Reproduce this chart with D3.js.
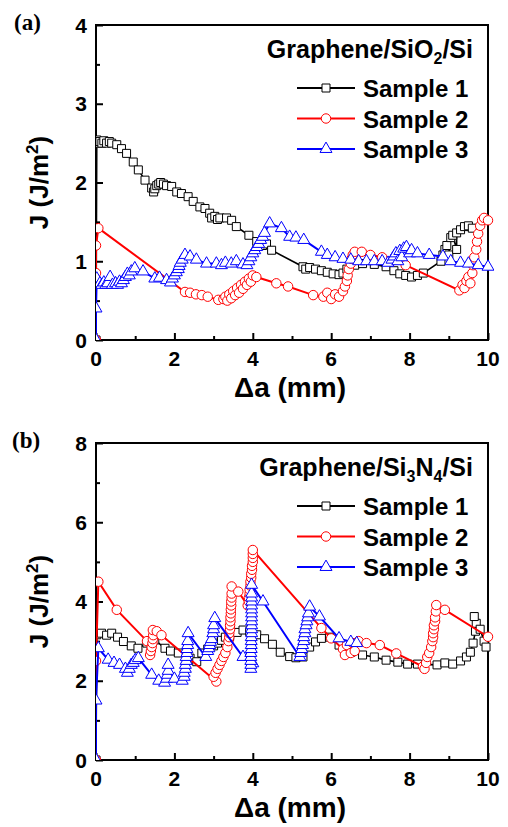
<!DOCTYPE html>
<html>
<head>
<meta charset="utf-8">
<script src="https://cdn.jsdelivr.net/npm/d3@7"></script>
<style>
  body { margin: 0; background: #fff; }
  text { font-weight: bold; }
</style>
</head>
<body>
<script>
// tick labels
var xTicks = [0, 2, 4, 6, 8, 10];
var yTicksA = [0, 1, 2, 3, 4];
var yTicksB = [0, 2, 4, 6, 8];
var sampleNames = ["Sample 1", "Sample 2", "Sample 3"];

// panel (a) Graphene/SiO2/Si, [delta a (mm), J (J/m2)]
var a1 = [[0,0],[0.02,2.54],[0.06,2.50],[0.1,2.52],[0.15,2.50],[0.2,2.53],[0.27,2.50],[0.34,2.52],[0.40,2.50],[0.53,2.48],[0.65,2.43],[0.78,2.37],[0.95,2.26],[1.08,2.16],[1.25,2.03],[1.42,1.93],[1.47,1.88],[1.5,1.92],[1.55,1.96],[1.6,1.98],[1.65,2.0],[1.72,1.98],[1.8,1.96],[1.93,1.95],[2.06,1.88],[2.18,1.86],[2.35,1.82],[2.48,1.76],[2.65,1.69],[2.78,1.67],[2.9,1.61],[2.95,1.55],[3.03,1.57],[3.1,1.53],[3.16,1.55],[3.33,1.55],[3.46,1.52],[3.58,1.44],[3.9,1.33],[4.1,1.25],[4.25,1.2],[4.35,1.22],[4.48,1.14],[5.28,0.93],[5.35,0.9],[5.45,0.92],[5.6,0.9],[5.75,0.88],[5.9,0.86],[6.05,0.84],[6.2,0.83],[6.3,0.85],[6.4,0.9],[6.6,0.95],[6.8,0.97],[7.1,0.96],[7.4,0.93],[7.6,0.88],[7.75,0.84],[7.9,0.82],[8.05,0.8],[8.2,0.82],[8.35,0.85],[8.8,1.0],[8.85,1.08],[8.9,1.15],[8.95,1.2],[9.0,1.08],[9.05,1.3],[9.1,1.33],[9.2,1.15],[9.2,1.36],[9.3,1.4],[9.4,1.44],[9.5,1.45],[9.6,1.42]];
var a2 = [[0,0],[0,0.85],[0,1.2],[0.06,1.42],[2.27,0.61],[2.4,0.6],[2.55,0.58],[2.7,0.57],[2.85,0.55],[3.12,0.51],[3.25,0.52],[3.3,0.55],[3.35,0.5],[3.4,0.58],[3.45,0.53],[3.5,0.62],[3.55,0.57],[3.6,0.66],[3.65,0.6],[3.7,0.7],[3.75,0.65],[3.8,0.74],[3.85,0.7],[3.9,0.78],[3.95,0.74],[4.0,0.82],[4.09,0.8],[4.6,0.72],[4.9,0.68],[5.54,0.57],[5.8,0.55],[5.9,0.6],[6.0,0.52],[6.1,0.58],[6.2,0.55],[6.3,0.62],[6.35,0.68],[6.4,0.75],[6.42,0.82],[6.45,0.9],[6.5,0.97],[6.52,1.03],[6.55,1.08],[6.6,1.12],[6.78,1.12],[7.0,1.08],[7.3,1.05],[7.6,1.02],[7.9,0.95],[9.27,0.63],[9.35,0.7],[9.4,0.66],[9.45,0.75],[9.5,0.8],[9.55,0.72],[9.6,0.85],[9.62,0.95],[9.65,1.05],[9.7,1.15],[9.72,1.25],[9.75,1.35],[9.8,1.45],[9.85,1.52],[9.9,1.55],[10.0,1.52]];
var a3 = [[0,0],[0,0.4],[0.02,0.78],[0.1,0.72],[0.15,0.7],[0.2,0.73],[0.25,0.7],[0.3,0.72],[0.36,0.8],[0.42,0.7],[0.5,0.72],[0.55,0.7],[0.6,0.74],[0.65,0.72],[0.7,0.76],[0.75,0.8],[0.8,0.84],[0.85,0.82],[0.9,0.87],[0.99,0.91],[1.2,0.87],[1.5,0.78],[1.62,0.79],[1.8,0.76],[1.9,0.73],[1.95,0.78],[2.0,0.82],[2.05,0.86],[2.1,0.9],[2.12,0.94],[2.15,0.98],[2.2,1.02],[2.27,1.08],[2.4,1.06],[2.56,1.02],[2.82,0.97],[3.07,0.97],[3.2,0.95],[3.3,0.98],[3.45,0.97],[3.58,1.0],[3.75,0.96],[3.85,0.95],[3.9,1.0],[3.95,1.05],[4.0,1.1],[4.05,1.14],[4.1,1.18],[4.15,1.22],[4.2,1.27],[4.25,1.31],[4.3,1.36],[4.43,1.48],[4.73,1.42],[4.94,1.31],[5.1,1.3],[5.3,1.27],[5.75,1.12],[5.9,1.08],[6.1,1.05],[6.3,1.03],[6.5,1.02],[6.7,1.0],[6.9,1.0],[7.1,1.0],[7.3,1.0],[7.45,0.98],[7.55,1.02],[7.6,1.06],[7.65,1.1],[7.7,1.0],[7.75,1.13],[7.8,1.05],[7.85,1.16],[7.92,1.18],[8.0,1.1],[8.05,1.14],[8.2,1.1],[8.5,1.08],[8.85,1.06],[9.05,1.0],[9.3,0.98],[9.5,0.97],[9.75,0.95],[10.0,0.93]];

// panel (b) Graphene/Si3N4/Si
var b1 = [[0,0],[0.02,3.16],[0.14,3.2],[0.27,3.15],[0.4,3.2],[0.55,3.1],[0.7,2.99],[0.9,2.88],[1.07,2.82],[1.3,2.95],[1.5,3.03],[1.76,2.82],[1.9,2.75],[2.1,2.7],[2.4,2.57],[2.57,2.48],[2.7,2.7],[2.85,2.8],[3.0,2.88],[3.1,2.95],[3.2,3.02],[3.3,3.1],[3.41,3.12],[3.6,3.22],[3.75,3.28],[3.92,3.24],[4.1,3.16],[4.3,3.06],[4.5,2.92],[4.7,2.72],[4.94,2.61],[5.1,2.58],[5.28,2.6],[5.45,2.85],[5.6,2.98],[5.75,3.07],[5.96,3.1],[6.2,2.9],[6.5,2.72],[6.8,2.65],[7.1,2.6],[7.4,2.52],[7.7,2.47],[7.95,2.42],[8.2,2.42],[8.7,2.4],[8.9,2.45],[9.1,2.42],[9.3,2.5],[9.45,2.6],[9.55,2.72],[9.62,2.95],[9.68,3.25],[9.7,3.45],[9.65,3.62],[9.8,3.3],[9.9,3.0],[9.95,2.85]];
var b2 = [[0,0],[0,2.5],[0.06,4.5],[0.53,3.79],[1.3,3.0],[1.38,2.65],[1.4,2.75],[1.42,2.85],[1.44,2.95],[1.45,3.05],[1.46,3.15],[1.45,3.28],[1.55,3.25],[1.67,3.15],[3.07,1.98],[3.0,2.1],[3.05,2.2],[3.1,2.3],[3.15,2.4],[3.2,2.5],[3.25,2.6],[3.3,2.7],[3.35,2.85],[3.38,3.0],[3.4,3.1],[3.4,3.2],[3.42,3.3],[3.42,3.4],[3.43,3.5],[3.43,3.6],[3.44,3.7],[3.44,3.8],[3.45,3.9],[3.45,4.0],[3.46,4.1],[3.46,4.2],[3.46,4.38],[3.63,4.25],[3.87,3.9],[3.9,4.0],[3.9,4.1],[3.92,4.2],[3.92,4.3],[3.94,4.4],[3.94,4.5],[3.96,4.6],[3.96,4.7],[3.98,4.8],[3.98,4.9],[4.0,5.0],[4.0,5.1],[4.0,5.2],[4.0,5.3],[5.75,3.33],[6.0,3.07],[6.3,2.8],[6.35,2.65],[6.4,2.9],[6.5,2.7],[6.55,2.95],[6.6,2.75],[6.7,3.0],[6.9,2.95],[7.24,2.9],[7.66,2.69],[8.34,2.36],[8.38,2.3],[8.42,2.45],[8.45,2.6],[8.5,2.7],[8.55,2.85],[8.58,3.0],[8.6,3.1],[8.6,3.2],[8.62,3.3],[8.62,3.4],[8.65,3.5],[8.65,3.6],[8.67,3.75],[8.68,3.91],[8.9,3.79],[10.0,3.11]];
var b3 = [[0,0],[0,1.5],[0.06,2.82],[0.31,2.53],[0.46,2.45],[0.6,2.4],[0.75,2.3],[0.8,2.2],[0.85,2.3],[0.9,2.4],[0.95,2.45],[1.0,2.52],[1.08,2.57],[1.42,2.15],[1.6,2.0],[1.75,1.95],[1.8,2.05],[1.82,2.15],[1.84,2.25],[1.84,2.4],[2.0,2.05],[2.2,2.0],[2.25,2.1],[2.25,2.2],[2.28,2.3],[2.28,2.4],[2.3,2.5],[2.3,2.6],[2.32,2.7],[2.32,2.8],[2.34,2.9],[2.34,3.0],[2.35,3.2],[2.8,2.6],[2.85,2.75],[2.88,2.82],[2.9,2.9],[2.92,2.98],[2.95,3.05],[2.98,3.2],[3.0,3.3],[3.0,3.4],[3.03,3.58],[3.75,2.6],[4.0,2.44],[3.95,2.3],[3.95,2.4],[3.95,2.5],[3.95,2.6],[3.95,2.7],[3.96,2.8],[3.96,2.9],[3.96,3.0],[3.96,3.1],[3.97,3.2],[3.97,3.3],[3.97,3.4],[3.97,3.5],[3.97,3.6],[3.97,3.7],[3.97,3.8],[3.97,3.9],[3.97,4.0],[3.97,4.1],[3.97,4.2],[3.97,4.42],[4.26,4.0],[5.2,2.6],[5.22,2.7],[5.25,2.8],[5.27,2.9],[5.3,3.0],[5.3,3.1],[5.33,3.2],[5.33,3.3],[5.36,3.4],[5.38,3.5],[5.4,3.6],[5.42,3.7],[5.45,3.87],[5.7,3.62],[6.2,3.07],[6.5,2.98],[6.65,2.95]];

var COLORS = ["#000000", "#ff0000", "#0000ff"];
var SHAPES = [d3.symbolSquare, d3.symbolCircle, d3.symbolTriangle];
var SIZES = [64, 70, 62];
var LEFT = 96, RIGHT = 488;
var SANS = "'Liberation Sans', Arial, sans-serif";

var svg = d3.select("body").append("svg")
    .attr("width", 508)
    .attr("height", 827)
    .style("font-family", SANS);

function drawPanel(p, idx) {
    var x = d3.scaleLinear().domain([0, 10]).range([LEFT, RIGHT]);
    var y = d3.scaleLinear().domain([0, p.yMax]).range([p.bottom, p.top]);
    var g = svg.append("g");

    g.append("clipPath").attr("id", "clip" + idx)
        .append("rect")
        .attr("x", LEFT).attr("y", p.top - 6)
        .attr("width", RIGHT - LEFT + 6).attr("height", p.bottom - p.top + 6);

    // frame
    g.append("rect")
        .attr("x", LEFT).attr("y", p.top)
        .attr("width", RIGHT - LEFT).attr("height", p.bottom - p.top)
        .attr("fill", "none").attr("stroke", "#000").attr("stroke-width", 2);

    // inward ticks
    var xAxis = d3.axisTop(x).tickValues(xTicks).tickSize(7).tickFormat("");
    g.append("g").attr("transform", "translate(0," + p.bottom + ")").call(xAxis);
    var xMinor = d3.axisTop(x).tickValues([1, 3, 5, 7, 9]).tickSize(4).tickFormat("");
    g.append("g").attr("transform", "translate(0," + p.bottom + ")").call(xMinor);
    var yAxis = d3.axisRight(y).tickValues(p.yTicks).tickSize(7).tickFormat("");
    g.append("g").attr("transform", "translate(" + LEFT + ",0)").call(yAxis);
    var yMinor = d3.axisRight(y).tickValues(p.yMinor).tickSize(4).tickFormat("");
    g.append("g").attr("transform", "translate(" + LEFT + ",0)").call(yMinor);
    g.selectAll(".domain").remove();
    g.selectAll(".tick line").attr("stroke", "#000").attr("stroke-width", 2);

    // tick labels
    g.selectAll(".xlab").data(xTicks).enter().append("text")
        .attr("x", function (d) { return x(d); })
        .attr("y", p.bottom + 26)
        .attr("text-anchor", "middle")
        .style("font-size", "21px")
        .text(function (d) { return d; });
    g.selectAll(".ylab").data(p.yTicks).enter().append("text")
        .attr("x", 87)
        .attr("y", function (d) { return y(d); })
        .attr("dy", "0.36em")
        .attr("text-anchor", "end")
        .style("font-size", "21px")
        .text(function (d) { return d; });

    // axis titles
    g.append("text")
        .attr("x", (LEFT + RIGHT) / 2 - 2)
        .attr("y", p.bottom + 57)
        .attr("text-anchor", "middle")
        .style("font-size", "28px")
        .text("\u0394a (mm)");
    var yt = g.append("text")
        .attr("transform", "translate(48," + ((p.top + p.bottom) / 2) + ") rotate(-90)")
        .attr("text-anchor", "middle")
        .style("font-size", "26px");
    yt.append("tspan").text("J (J/m");
    yt.append("tspan").style("font-size", "17px").attr("dy", "-10").text("2");
    yt.append("tspan").attr("dy", "10").text(")");

    g.append("text")
        .attr("x", p.labelX).attr("y", p.top + 5)
        .style("font-family", "'Liberation Serif', 'Times New Roman', serif")
        .style("font-size", "23px")
        .text(p.label);

    // series
    var line = d3.line().x(function (d) { return x(d[0]); }).y(function (d) { return y(d[1]); });
    var plot = g.append("g").attr("clip-path", "url(#clip" + idx + ")");
    p.series.forEach(function (s, i) {
        plot.append("path")
            .datum(s)
            .attr("fill", "none")
            .attr("stroke", COLORS[i])
            .attr("stroke-width", i === 0 ? 1.6 : 2)
            .attr("d", line);
        plot.selectAll(".m" + i).data(s).enter().append("path")
            .attr("transform", function (d) { return "translate(" + x(d[0]) + "," + y(d[1]) + ")"; })
            .attr("d", d3.symbol().type(SHAPES[i]).size(SIZES[i]))
            .attr("fill", "#fff")
            .attr("stroke", COLORS[i])
            .attr("stroke-width", 1);
    });

    // legend
    var tt = g.append("text")
        .attr("x", 473).attr("y", p.top + 33)
        .attr("text-anchor", "end")
        .style("font-size", "25px");
    p.title.forEach(function (part) {
        if (part.sub) {
            tt.append("tspan").style("font-size", "16px").attr("dy", "6").text(part.t);
        } else {
            tt.append("tspan").attr("dy", part.after ? "-6" : "0").text(part.t);
        }
    });
    sampleNames.forEach(function (name, i) {
        var by = p.top + 72 + i * 30.5;
        g.append("line")
            .attr("x1", 297).attr("x2", 355)
            .attr("y1", by - 9).attr("y2", by - 9)
            .attr("stroke", COLORS[i]).attr("stroke-width", 2);
        g.append("path")
            .attr("transform", "translate(326," + (by - 9) + ")")
            .attr("d", d3.symbol().type(SHAPES[i]).size(SIZES[i]))
            .attr("fill", "#fff").attr("stroke", COLORS[i]).attr("stroke-width", 1);
        g.append("text")
            .attr("x", 363).attr("y", by)
            .style("font-size", "24px")
            .text(name);
    });
}

var panels = [
    { top: 25, bottom: 340, yMax: 4, yTicks: yTicksA, yMinor: [0.5, 1.5, 2.5, 3.5], label: "(a)", labelX: 14,
      series: [a1, a2, a3],
      title: [{ t: "Graphene/SiO" }, { t: "2", sub: true }, { t: "/Si", after: true }] },
    { top: 443, bottom: 760, yMax: 8, yTicks: yTicksB, yMinor: [1, 3, 5, 7], label: "(b)", labelX: 12,
      series: [b1, b2, b3],
      title: [{ t: "Graphene/Si" }, { t: "3", sub: true }, { t: "N", after: true }, { t: "4", sub: true }, { t: "/Si", after: true }] }
];
panels.forEach(drawPanel);
</script>
</body>
</html>
